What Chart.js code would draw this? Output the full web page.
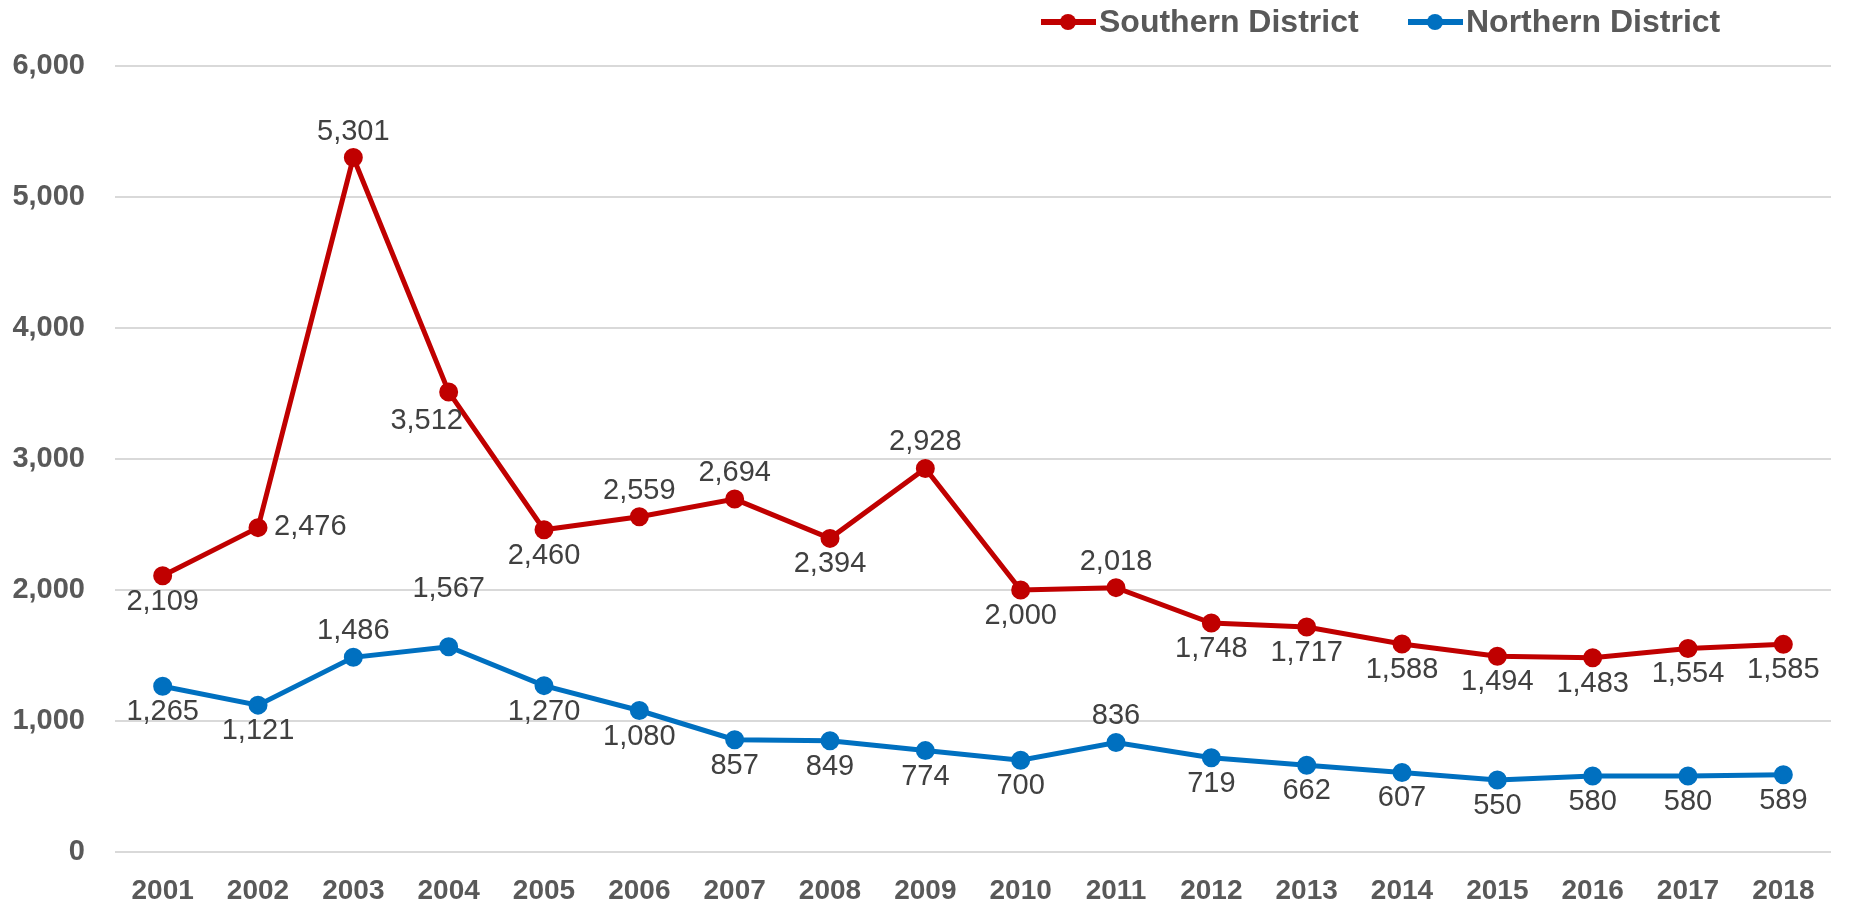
<!DOCTYPE html>
<html>
<head>
<meta charset="utf-8">
<script src="https://cdn.jsdelivr.net/npm/chart.js@4.4.1/dist/chart.umd.min.js"></script>
<style>
  body { margin: 0; background: #fff; }
  #wrap { width: 1855px; height: 907px; position: relative; }
</style>
</head>
<body>
<div id="wrap"><canvas id="grafico"></canvas></div>
<script>
// dados do gráfico
const anos = ['2001', '2002', '2003', '2004', '2005', '2006', '2007', '2008', '2009',
    '2010', '2011', '2012', '2013', '2014', '2015', '2016', '2017', '2018'];
const southern = [2109, 2476, 5301, 3512, 2460, 2559, 2694, 2394, 2928,
    2000, 2018, 1748, 1717, 1588, 1494, 1483, 1554, 1585];
const northern = [1265, 1121, 1486, 1567, 1270, 1080, 857, 849, 774,
    700, 836, 719, 662, 607, 550, 580, 580, 589];
const yTicks = [0, 1000, 2000, 3000, 4000, 5000, 6000];

// onde fica o rótulo de cada ponto
const posSouthern = ['below', 'right', 'above', 'belowleft', 'below', 'above', 'above', 'below', 'above',
    'below', 'above', 'below', 'below', 'below', 'below', 'below', 'below', 'below'];
const posNorthern = ['below', 'below', 'above', 'high', 'below', 'below', 'below', 'below', 'below',
    'below', 'above', 'below', 'below', 'below', 'below', 'below', 'below', 'below'];

const vermelho = '#C00000';
const azul = '#0070C0';
const fmt = v => v.toLocaleString('en-US');

// Plugin para escrever os valores junto aos pontos
const rotulos = {
    id: 'rotulos',
    afterDatasetsDraw(chart) {
        const ctx = chart.ctx;
        ctx.save();
        ctx.font = '29px "Liberation Sans", Arial, sans-serif';
        ctx.fillStyle = '#404040';
        chart.data.datasets.forEach((ds, i) => {
            const meta = chart.getDatasetMeta(i);
            const pos = i === 0 ? posSouthern : posNorthern;
            meta.data.forEach((pt, j) => {
                const txt = fmt(ds.data[j]);
                let x = pt.x, y = pt.y;
                ctx.textAlign = 'center';
                ctx.textBaseline = 'middle';
                if (pos[j] === 'above') y -= 26;
                else if (pos[j] === 'high') y -= 58;
                else if (pos[j] === 'below') y += 26;
                else if (pos[j] === 'belowleft') { x -= 22; y += 29; }
                else if (pos[j] === 'right') { ctx.textAlign = 'left'; x += 16; y -= 1; }
                ctx.fillText(txt, x, y);
            });
        });
        ctx.restore();
    }
};

// Plugin da legenda no topo
const legenda = {
    id: 'legenda',
    afterDraw(chart) {
        const ctx = chart.ctx;
        const itens = [
            { nome: 'Southern District', cor: vermelho, x: 1041 },
            { nome: 'Northern District', cor: azul, x: 1408 }
        ];
        ctx.save();
        ctx.font = 'bold 32px "Liberation Sans", Arial, sans-serif';
        ctx.textBaseline = 'middle';
        ctx.textAlign = 'left';
        itens.forEach(it => {
            const y = 22;
            ctx.strokeStyle = it.cor;
            ctx.lineWidth = 6;
            ctx.beginPath();
            ctx.moveTo(it.x, y);
            ctx.lineTo(it.x + 55, y);
            ctx.stroke();
            ctx.fillStyle = it.cor;
            ctx.beginPath();
            ctx.arc(it.x + 27, y, 8, 0, Math.PI * 2);
            ctx.fill();
            ctx.fillStyle = '#595959';
            ctx.fillText(it.nome, it.x + 58, y + 1);
        });
        ctx.restore();
    }
};

const div = document.getElementById('grafico');
const config = {
    type: 'line',
    data: {
        labels: anos,
        datasets: [{
            label: 'Southern District',
            data: southern,
            borderColor: vermelho,
            backgroundColor: vermelho,
            borderWidth: 5,
            pointRadius: 7,
            pointHoverRadius: 7,
            tension: 0
        }, {
            label: 'Northern District',
            data: northern,
            borderColor: azul,
            backgroundColor: azul,
            borderWidth: 5,
            pointRadius: 7,
            pointHoverRadius: 7,
            tension: 0
        }]
    },
    options: {
        responsive: true,
        maintainAspectRatio: false,
        animation: false,
        layout: { padding: { top: 66, left: 12, right: 24, bottom: 0 } },
        plugins: {
            legend: { display: false },
            tooltip: { enabled: false }
        },
        scales: {
            x: {
                offset: true,
                grid: { display: false },
                border: { display: false },
                afterFit(axis) {
                    axis.height = 55;
                },
                ticks: {
                    color: '#595959',
                    font: { family: '"Liberation Sans", Arial, sans-serif', size: 28, weight: 'bold', lineHeight: 1.2 },
                    padding: 14,
                    maxRotation: 0
                }
            },
            y: {
                min: yTicks[0],
                max: yTicks[yTicks.length - 1],
                afterBuildTicks(axis) {
                    axis.ticks = yTicks.map(v => ({ value: v }));
                },
                afterFit(axis) {
                    axis.width = 103;
                },
                grid: { color: '#D9D9D9', lineWidth: 2, drawTicks: false },
                border: { display: false },
                ticks: {
                    color: '#595959',
                    font: { family: '"Liberation Sans", Arial, sans-serif', size: 29, weight: 'bold' },
                    padding: 30,
                    callback: v => fmt(v)
                }
            }
        }
    },
    plugins: [rotulos, legenda]
};
const grafico = new Chart(div, config);
</script>
</body>
</html>
